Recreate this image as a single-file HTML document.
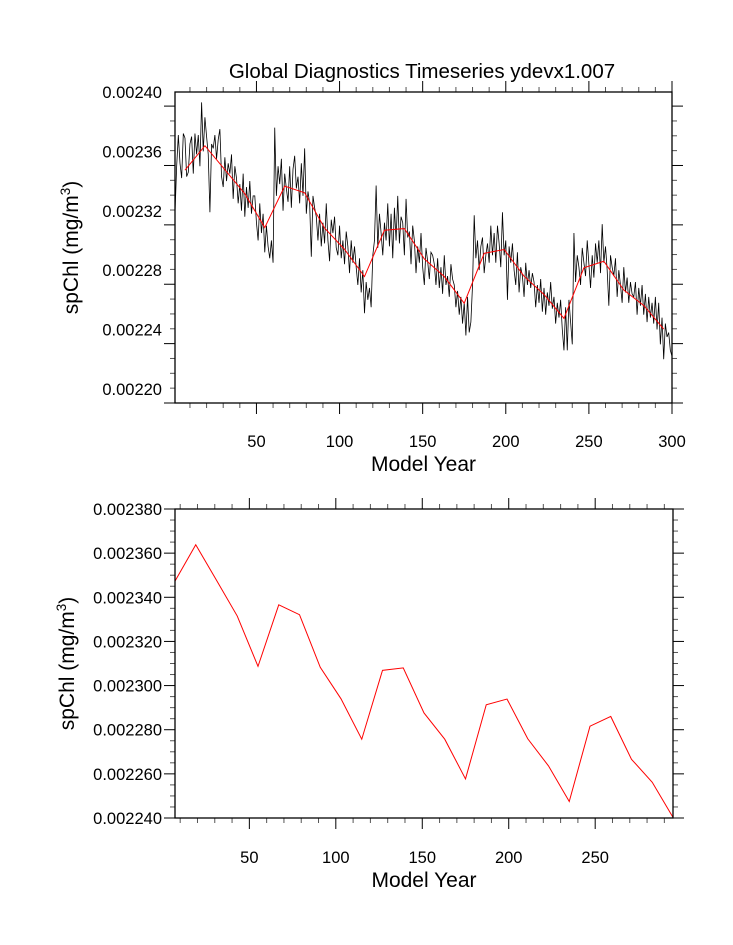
<!DOCTYPE html>
<html><head><meta charset="utf-8"><style>
body{margin:0;background:#fff}
svg{display:block;font-family:"Liberation Sans",Arial,sans-serif}
</style></head><body>
<svg id="chart" width="733" height="945" viewBox="0 0 733 945">
<text x="422" y="78" font-size="20.5" text-anchor="middle">Global Diagnostics Timeseries ydevx1.007</text>
<g id="p1"></g>
<g id="p2"></g>
</svg>
<script>
const annualYears = Array.from({length:300},(_,i)=>i+1);
const annualValues = [
0.002318,0.002350,0.002371,0.002352,0.002342,0.002372,0.002369,0.002343,0.002346,0.002365,0.002370,0.002345,
0.002372,0.002358,0.002371,0.002350,0.002393,0.002360,0.002383,0.002370,0.002358,0.002319,0.002365,0.002362,
0.002371,0.002355,0.002368,0.002375,0.002343,0.002336,0.002356,0.002340,0.002352,0.002345,0.002358,0.002328,
0.002350,0.002342,0.002325,0.002338,0.002320,0.002345,0.002316,0.002336,0.002322,0.002340,0.002318,0.002330,
0.002330,0.002312,0.002300,0.002325,0.002305,0.002318,0.002292,0.002310,0.002296,0.002288,0.002300,0.002285,
0.002376,0.002330,0.002350,0.002338,0.002355,0.002320,0.002345,0.002335,0.002326,0.002350,0.002322,0.002348,
0.002357,0.002335,0.002343,0.002325,0.002352,0.002330,0.002362,0.002318,0.002333,0.002325,0.002289,0.002330,
0.002322,0.002316,0.002300,0.002318,0.002296,0.002312,0.002298,0.002325,0.002300,0.002286,0.002314,0.002305,
0.002316,0.002295,0.002290,0.002310,0.002288,0.002300,0.002284,0.002306,0.002296,0.002278,0.002300,0.002285,
0.002296,0.002282,0.002270,0.002288,0.002265,0.002280,0.002251,0.002272,0.002260,0.002268,0.002255,0.002290,
0.002300,0.002337,0.002295,0.002318,0.002305,0.002290,0.002312,0.002300,0.002325,0.002296,0.002318,0.002288,
0.002322,0.002300,0.002330,0.002298,0.002316,0.002312,0.002290,0.002328,0.002302,0.002306,0.002284,0.002310,
0.002300,0.002278,0.002296,0.002285,0.002305,0.002282,0.002270,0.002295,0.002286,0.002274,0.002292,0.002290,
0.002284,0.002270,0.002288,0.002268,0.002282,0.002264,0.002290,0.002270,0.002276,0.002262,0.002284,0.002274,
0.002270,0.002255,0.002266,0.002250,0.002262,0.002244,0.002258,0.002236,0.002262,0.002238,0.002245,0.002270,
0.002317,0.002288,0.002300,0.002280,0.002296,0.002302,0.002278,0.002290,0.002298,0.002285,0.002310,0.002290,
0.002305,0.002285,0.002310,0.002298,0.002282,0.002319,0.002290,0.002300,0.002260,0.002296,0.002285,0.002298,
0.002280,0.002270,0.002292,0.002265,0.002282,0.002276,0.002262,0.002285,0.002270,0.002280,0.002268,0.002278,
0.002272,0.002255,0.002270,0.002258,0.002274,0.002252,0.002268,0.002250,0.002265,0.002256,0.002272,0.002254,
0.002262,0.002244,0.002258,0.002248,0.002260,0.002240,0.002226,0.002255,0.002226,0.002260,0.002245,0.002230,
0.002305,0.002272,0.002290,0.002282,0.002270,0.002295,0.002285,0.002276,0.002300,0.002284,0.002268,0.002290,
0.002275,0.002298,0.002285,0.002300,0.002278,0.002311,0.002285,0.002296,0.002280,0.002256,0.002290,0.002282,
0.002276,0.002288,0.002262,0.002280,0.002270,0.002258,0.002282,0.002265,0.002275,0.002258,0.002272,0.002264,
0.002262,0.002272,0.002250,0.002268,0.002256,0.002270,0.002250,0.002264,0.002245,0.002262,0.002248,0.002258,
0.002244,0.002262,0.002240,0.002258,0.002230,0.002248,0.002220,0.002244,0.002235,0.002238,0.002226,0.002222];
const meanYears = [7,19,31,43,55,67,79,91,103,115,127,139,151,163,175,187,199,211,223,235,247,259,271,283,295];
const meanValues = [0.0023473,0.0023638,0.0023477,0.0023315,0.0023087,0.0023366,0.0023321,0.0023083,0.0022940,0.0022757,
0.0023069,0.0023080,0.0022876,0.0022757,0.0022577,0.0022913,0.0022939,0.0022759,0.0022636,0.0022475,
0.0022816,0.0022860,0.0022666,0.0022562,0.0022403];
const topYTicks = ["0.00220","0.00224","0.00228","0.00232","0.00236","0.00240"];
const botYTicks = ["0.002240","0.002260","0.002280","0.002300","0.002320","0.002340","0.002360","0.002380"];
const xTickLabelsTop = ["50","100","150","200","250","300"];
const xTickLabelsBot = ["50","100","150","200","250"];

const NS="http://www.w3.org/2000/svg";
function mk(parent,tag,attrs){const e=document.createElementNS(NS,tag);for(const k in attrs)e.setAttribute(k,attrs[k]);parent.appendChild(e);return e;}

function panel(g,cfg){
  const {L,R,T,B,x0,x1,y0,y1}=cfg;
  const sx=v=>L+(v-x0)/(x1-x0)*(R-L);
  const sy=v=>B-(v-y0)/(y1-y0)*(B-T);
  for(let v=10;v<=x1+0.01;v+=10){ if(v<x0)continue;
    const X=sx(v), major=v%50===0, len=major?11:5, col=major?"#000":"#555";
    let t=mk(g,'line',{x1:X,x2:X,y1:B,y2:B+len,stroke:col,'stroke-width':1});
    
    
    t=mk(g,'line',{x1:X,x2:X,y1:T,y2:T-len,stroke:col,'stroke-width':1});
    
    
  }
  cfg.xLabels.forEach(s=>{const v=+s;
    const t=mk(g,'text',{x:sx(v),y:cfg.xLabelY,'font-size':16.5,'text-anchor':'middle'});t.textContent=s;
    
    
  });
  const nMin=cfg.minorPer;
  const step=(+cfg.yLabels[1]-+cfg.yLabels[0])/nMin;
  for(let i=0;;i++){const v=y0+i*step; if(v>y1+step/100)break;
    const Y=sy(v), major=i%nMin===0, len=major?11:5, col=major?"#000":"#555";
    let t=mk(g,'line',{x1:L,x2:L-len,y1:Y,y2:Y,stroke:col,'stroke-width':1});
    
    
    t=mk(g,'line',{x1:R,x2:R+len,y1:Y,y2:Y,stroke:col,'stroke-width':1});
    
    
  }
  cfg.yLabels.forEach(s=>{
    const t=mk(g,'text',{x:L-13,y:sy(+s)+6,'font-size':16.5,'text-anchor':'end'});t.textContent=s;
    
    
  });
  const clip=mk(g,'g',{});
  if(cfg.annual){
    const p=mk(clip,'polyline',{points:cfg.annual[0].map((x,i)=>sx(x).toFixed(2)+','+sy(cfg.annual[1][i]).toFixed(2)).join(' '),fill:'none',stroke:'#000','stroke-width':0.8});
    
    
  }
  const r=mk(clip,'polyline',{points:meanYears.map((x,i)=>sx(x).toFixed(2)+','+sy(meanValues[i]).toFixed(2)).join(' '),fill:'none',stroke:'#ff0000','stroke-width':1});
  
  
  const f=mk(g,'rect',{x:L,y:T,width:R-L,height:B-T,fill:'none',stroke:'#000','stroke-width':1.3});
  
  
  const xt=mk(g,'text',{x:(L+R)/2,y:cfg.xTitleY,'font-size':21,'text-anchor':'middle'});xt.textContent='Model Year';
  
  
  const yt=mk(g,'text',{x:0,y:0,'font-size':21,'text-anchor':'middle',transform:`translate(${cfg.yTitleX},${(T+B)/2}) rotate(-90)`});
  yt.innerHTML='spChl (mg/m<tspan font-size="13.5" dy="-8">3</tspan><tspan dy="8">)</tspan>';
  
  
}
panel(document.getElementById('p1'),{L:175,R:672,T:92,B:403,x0:1,x1:300,y0:0.0021905,y1:0.0024,
  yLabels:topYTicks,minorPer:4,xLabels:xTickLabelsTop,xLabelY:447,xTitleY:471,yTitleX:78,annual:[annualYears,annualValues]});
panel(document.getElementById('p2'),{L:175,R:673,T:509,B:818,x0:7,x1:295,y0:0.00224,y1:0.00238,
  yLabels:botYTicks,minorPer:4,xLabels:xTickLabelsBot,xLabelY:863,xTitleY:887,yTitleX:74});
</script>
</body></html>
